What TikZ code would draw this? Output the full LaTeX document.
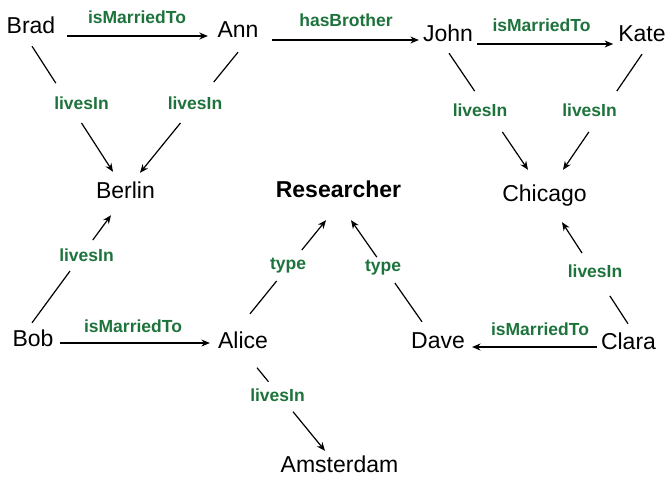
\documentclass[tikz,border=0pt]{standalone}
\usepackage{fontspec}
\setmainfont{Liberation Sans}
\usetikzlibrary{arrows.meta,calc}
\definecolor{lblgreen}{RGB}{30,115,60}
\newcommand\gapedge[4]{%
  \draw[conn] (#1) -- ($(#1)!#3!(#2)$);
  \draw[arr] ($(#1)!#4!(#2)$) -- (#2);}
\begin{document}
\begin{tikzpicture}[x=1pt,y=-1pt,
  ent/.style={inner sep=0pt, anchor=base, font=\fontsize{23}{27}\selectfont, text height=16.5pt, text depth=0pt},
  lbl/.style={inner sep=0pt, anchor=base, text=lblgreen, font=\bfseries\fontsize{17.5}{21}\selectfont},
  conn/.style={line width=1.2pt},
  arr/.style={line width=1.2pt, -{Stealth[length=8.5pt,width=7pt]}}]
\useasboundingbox (0,0) rectangle (669,477);
% entities
\node[ent] (brad) at (31,33) {Brad};
\node[ent] (ann) at (238,37) {Ann};
\node[ent] (john) at (448,41) {John};
\node[ent] (kate) at (642,41) {Kate};
\node[ent] (berlin) at (125.5,198) {Berlin};
\node[ent, font=\bfseries\fontsize{23}{27}\selectfont] (res) at (338.5,197) {Researcher};
\node[ent] (chicago) at (544.5,201) {Chicago};
\node[ent] (bob) at (33,346) {Bob};
\node[ent] (alice) at (243,348) {Alice};
\node[ent] (dave) at (438,348) {Dave};
\node[ent] (clara) at (628.5,349) {Clara};
\node[ent] (ams) at (339.5,472) {Amsterdam};
% horizontal relations
\draw[arr] ([shift={(12,3)}]brad.base east) -- ([shift={(-9.5,-1)}]ann.base west);
\draw[arr] ([shift={(13.5,3)}]ann.base east) -- ([shift={(-4,-1)}]john.base west);
\draw[arr] ([shift={(4,3)}]john.base east) -- ([shift={(-5,3)}]kate.base west);
\draw[arr] ([shift={(6.5,-3)}]bob.base east) -- ([shift={(-8,-5)}]alice.base west);
\draw[arr] ([shift={(-4,-2)}]clara.base west) -- ([shift={(7,-1)}]dave.base east);
% diagonal relations (interrupted by their labels)
\gapedge{[shift={(1,13)}]brad.south}{[shift={(-12.5,-9.5)}]berlin.north}{0.294}{0.611}
\gapedge{[shift={(0,15)}]ann.south}{[shift={(14.5,-8.5)}]berlin.north}{0.248}{0.587}
\gapedge{[shift={(1,12)}]john.south}{[shift={(-16.5,-14.5)}]chicago.north}{0.325}{0.675}
\gapedge{[shift={(0,13)}]kate.south}{[shift={(18.5,-14.5)}]chicago.north}{0.319}{0.672}
\gapedge{[shift={(-1,-6.5)}]bob.north}{[shift={(-14.5,17)}]berlin.south}{0.481}{0.769}
\gapedge{[shift={(7,-17.5)}]alice.north}{[shift={(-12.5,23)}]res.south}{0.351}{0.681}
\gapedge{[shift={(-16,-9.5)}]dave.north}{[shift={(12.5,23)}]res.south}{0.382}{0.637}
\gapedge{[shift={(-0.5,-8.5)}]clara.north}{[shift={(17.5,21)}]chicago.south}{0.275}{0.696}
\gapedge{[shift={(14,19.5)}]alice.south}{[shift={(-14.5,-4.5)}]ams.north}{0.169}{0.530}
% labels
\node[lbl] (l1) at (137,23) {isMarriedTo};
\node[lbl] (l2) at (346,26) {hasBrother};
\node[lbl] (l3) at (541.5,31) {isMarriedTo};
\node[lbl] (l4) at (81.5,109) {livesIn};
\node[lbl] (l5) at (195,109) {livesIn};
\node[lbl] (l6) at (480,116) {livesIn};
\node[lbl] (l7) at (589.5,116) {livesIn};
\node[lbl] (l8) at (86.5,261) {livesIn};
\node[lbl] (l9) at (288,269) {type};
\node[lbl] (l10) at (383,271) {type};
\node[lbl] (l11) at (595,277) {livesIn};
\node[lbl] (l12) at (133,332) {isMarriedTo};
\node[lbl] (l13) at (540,335) {isMarriedTo};
\node[lbl] (l14) at (277.5,401) {livesIn};
\end{tikzpicture}
\end{document}
